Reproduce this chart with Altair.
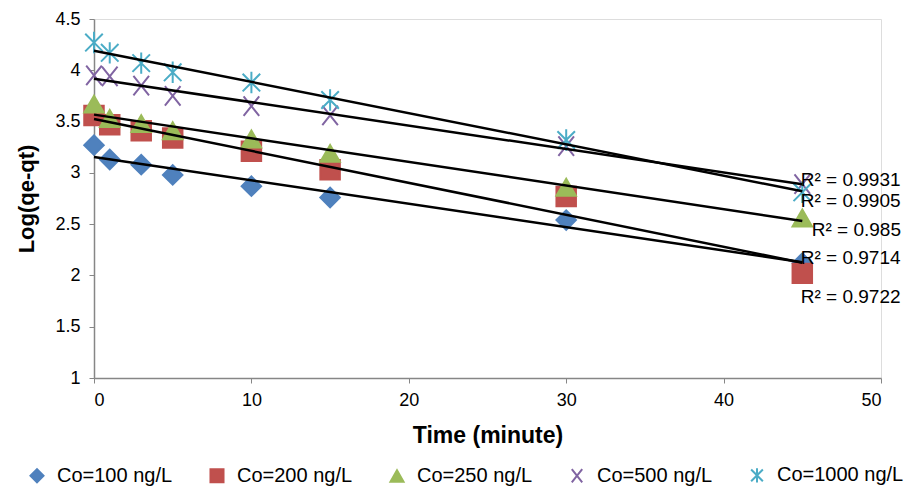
import altair as alt
import pandas as pd

# ---- data ----
time_min = [0, 1, 3, 5, 10, 15, 30, 45]
series_names = ["Co=100 ng/L", "Co=200 ng/L", "Co=250 ng/L", "Co=500 ng/L", "Co=1000 ng/L"]
co100 = [3.27, 3.13, 3.08, 2.98, 2.87, 2.76, 2.54, 2.12]
co200 = [3.56, 3.47, 3.41, 3.34, 3.21, 3.03, 2.77, 2.02]
co250 = [3.67, 3.53, 3.48, 3.41, 3.33, 3.19, 2.86, 2.56]
co500 = [3.95, 3.94, 3.85, 3.75, 3.65, 3.56, 3.26, 2.89]
co1000 = [4.27, 4.17, 4.07, 3.98, 3.88, 3.71, 3.32, 2.81]

r2_labels = ["R² = 0.9931", "R² = 0.9905", "R² = 0.985", "R² = 0.9714", "R² = 0.9722"]
r2_x = [44.9, 44.9, 45.6, 44.9, 44.9]
r2_y = [2.93, 2.73, 2.44, 2.17, 1.79]

colors = ["#4F81BD", "#C0504D", "#9BBB59", "#8064A2", "#4BACC6"]
fills = ["#4F81BD", "#C0504D", "#9BBB59", "transparent", "transparent"]
shapes = [
    "diamond",
    "square",
    "triangle-up",
    "M-0.8,-1L0.8,1M-0.8,1L0.8,-1",
    "M-0.9,-0.9L0.9,0.9M-0.9,0.9L0.9,-0.9M0,-1.1L0,1.1",
]

rows = []
for name, vals in zip(series_names, [co100, co200, co250, co500, co1000]):
    for t, v in zip(time_min, vals):
        rows.append({"series": name, "x": t, "y": v})
df = pd.DataFrame(rows)
lab = pd.DataFrame({"label": r2_labels, "x": r2_x, "y": r2_y})

FONT = "Liberation Sans"

legend = alt.Legend(
    title=None,
    orient="none",
    legendX=-67,
    legendY=446,
    direction="horizontal",
    columns=5,
    gridAlign="all",
    columnPadding=22,
    labelFont=FONT,
    labelFontSize=20,
    labelColor="#000000",
    labelLimit=200,
    symbolSize=170,
    symbolStrokeWidth=2,
    labelOffset=10,
)

xscale = alt.Scale(domain=[0, 50], nice=False)
yscale = alt.Scale(domain=[1, 4.5], nice=False, zero=False)

xaxis = alt.Axis(
    title="Time (minute)", values=[0, 10, 20, 30, 40, 50], grid=False,
    domainColor="#868686", tickColor="#868686", tickSize=5, domainWidth=1.5,
    labelFont=FONT, labelFontSize=18, labelColor="#000000", labelPadding=8,
    titleFont=FONT, titleFontSize=23, titleFontWeight="bold", titleColor="#000000",
    titlePadding=15,
)
yaxis = alt.Axis(
    title="Log(qe-qt)", values=[1, 1.5, 2, 2.5, 3, 3.5, 4, 4.5], format="~g", grid=False,
    domainColor="#868686", tickColor="#868686", tickSize=5, domainWidth=1.5,
    labelFont=FONT, labelFontSize=18, labelColor="#000000", labelPadding=9,
    titleFont=FONT, titleFontSize=22, titleFontWeight="bold", titleColor="#000000",
    titlePadding=16,
)

base = alt.Chart(df)

points = base.mark_point(size=380, strokeWidth=2, opacity=1).encode(
    x=alt.X("x:Q", scale=xscale, axis=xaxis),
    y=alt.Y("y:Q", scale=yscale, axis=yaxis),
    shape=alt.Shape("series:N", scale=alt.Scale(domain=series_names, range=shapes), legend=legend),
    stroke=alt.Stroke("series:N", scale=alt.Scale(domain=series_names, range=colors), legend=legend),
    fill=alt.Fill("series:N", scale=alt.Scale(domain=series_names, range=fills), legend=legend),
)

trend = base.transform_regression(
    "x", "y", groupby=["series"], extent=[0, 45]
).mark_line(color="#000000", strokeWidth=2.5).encode(
    x=alt.X("x:Q", scale=xscale),
    y=alt.Y("y:Q", scale=yscale),
    detail="series:N",
)

labels = alt.Chart(lab).mark_text(
    align="left", baseline="middle", font=FONT, fontSize=19, color="#000000"
).encode(
    x=alt.X("x:Q", scale=xscale),
    y=alt.Y("y:Q", scale=yscale),
    text="label:N",
)

chart = alt.layer(points, trend, labels).properties(
    width=787,
    height=359,
    autosize=alt.AutoSizeParams(type="none"),
    padding={"left": 94, "top": 19, "right": 29, "bottom": 114},
).configure_view(stroke=None).configure(background="#ffffff")

chart.save("out.html", embed_options={"renderer": "svg", "actions": False})
